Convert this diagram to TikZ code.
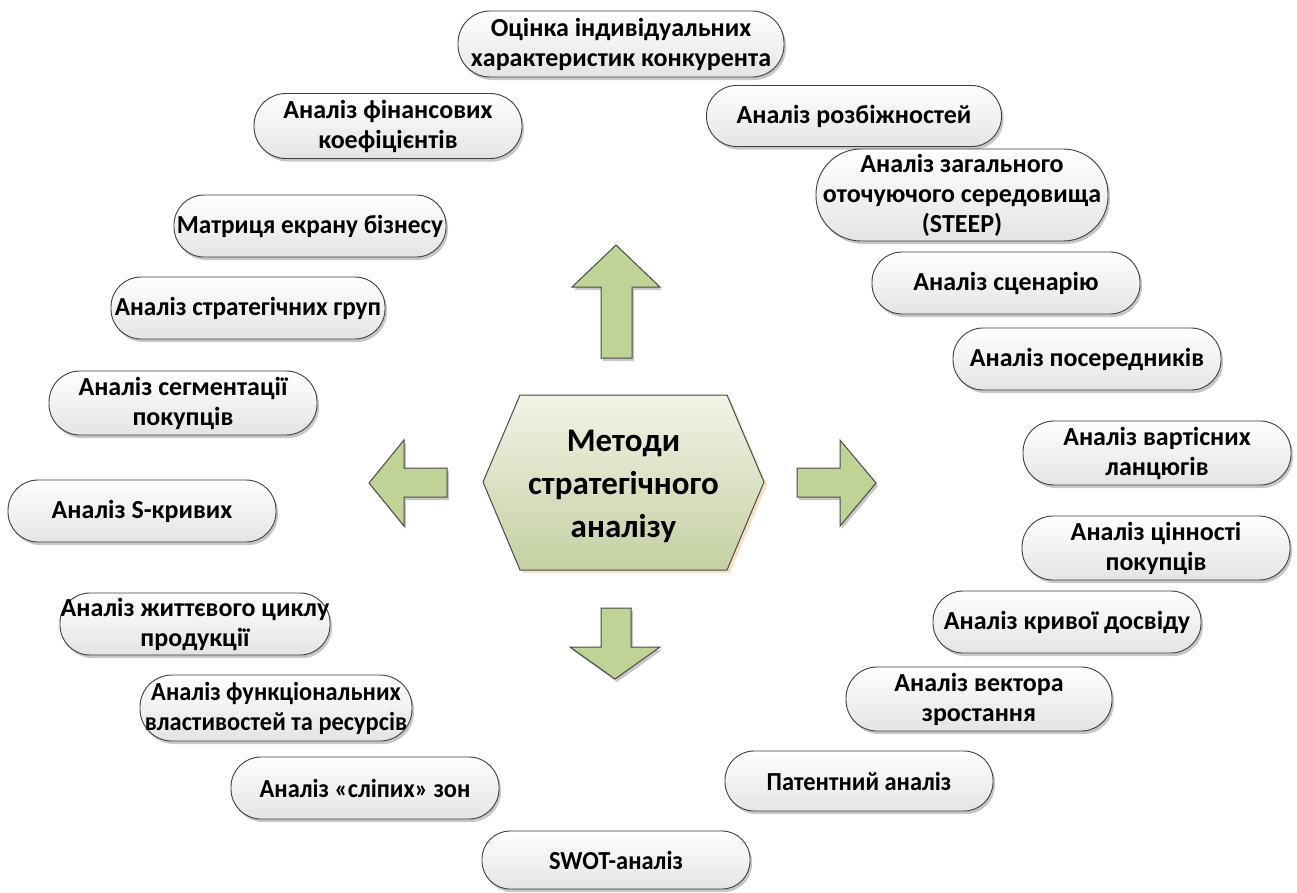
\documentclass[tikz,border=0pt]{standalone}
\usepackage{fontspec}
\setmainfont{Carlito}
\newfontfamily\narrowfont{Carlito}[FakeStretch=0.94]
\newfontfamily\tightfont{Carlito}[FakeStretch=0.97]
\usetikzlibrary{shadows}

\definecolor{boxline}{HTML}{3F3F3F}
\definecolor{boxlow}{HTML}{E4E4E4}
\definecolor{hextop}{HTML}{F2F3E6}
\definecolor{hexlow}{HTML}{C4D0A2}
\definecolor{arrowfill}{HTML}{C0D396}
\definecolor{arrowline}{HTML}{4A4A4A}

\tikzset{
  % pill-shaped box of fixed size; the negative inner xsep lets long lines
  % run up to the rim without widening the box
  pill/.style={rectangle, rounded corners=30pt, draw=boxline, line width=0.9pt,
    top color=white, bottom color=boxlow, align=center,
    minimum width=268pt, minimum height=62pt, inner xsep=-60pt, inner ysep=0pt,
    font=\fontsize{26}{30}\selectfont\bfseries,
    drop shadow={fill=black, opacity=0.22, shadow xshift=2pt, shadow yshift=-3pt}},
  narrowpill/.style={pill, font=\fontsize{26}{30}\narrowfont\bfseries},
  tightpill/.style={pill, font=\fontsize{26}{30}\tightfont\bfseries},
  blockarrow/.style={draw=arrowline, line width=1pt, fill=arrowfill,
    line join=miter,
    drop shadow={fill=black, opacity=0.22, shadow xshift=2pt, shadow yshift=-3pt}},
  hexbox/.style={draw=arrowline, line width=1pt, top color=hextop, bottom color=hexlow,
    drop shadow={fill=orange!60!brown, opacity=0.25, shadow xshift=3pt, shadow yshift=-3pt}},
  titletext/.style={align=center, font=\fontsize{33}{43}\selectfont\bfseries}
}

\begin{document}
\begin{tikzpicture}[x=1pt,y=-1pt]
\useasboundingbox (0,0) rectangle (1297,892);

% central hexagon
\path[hexbox] (483,482) -- (520,395) -- (727,395) -- (764,482) -- (727,570) -- (520,570) -- cycle;
\node[titletext] (core) at (623.5,486) {Методи\\стратегічного\\аналізу};

% block arrows pointing away from the centre
\path[blockarrow] (616,245) -- (660,287) -- (632,287) -- (632,358) -- (601,358) -- (601,287) -- (572,287) -- cycle;
\path[blockarrow] (876,483) -- (840,526) -- (840,497) -- (797,497) -- (797,468) -- (840,468) -- (840,440) -- cycle;
\path[blockarrow] (369,483) -- (404,526) -- (404,497) -- (447,497) -- (447,468) -- (404,468) -- (404,440) -- cycle;
\path[blockarrow] (615,679) -- (660,647) -- (631,647) -- (631,608) -- (601,608) -- (601,647) -- (570,647) -- cycle;

% methods
\node[pill, minimum width=326pt, minimum height=66pt, rounded corners=32pt] (m1) at (621,44) {Оцінка індивідуальних\\характеристик конкурента};
\node[pill, minimum height=65pt, rounded corners=32pt] (m2) at (388,126) {Аналіз фінансових\\коефіцієнтів};
\node[pill, minimum width=295pt, minimum height=61pt] (m3) at (854,116) {Аналіз розбіжностей};
\node[pill, minimum width=292pt, minimum height=92pt, rounded corners=45pt] (m4) at (962,195) {Аналіз загального\\оточуючого середовища\\(STEEP)};
\node[tightpill, minimum width=272pt] (m5) at (310,226) {Матриця екрану бізнесу};
\node[pill] (m6) at (1006,283) {Аналіз сценарію};
\node[tightpill, minimum width=274pt] (m7) at (248,308) {Аналіз стратегічних груп};
\node[pill] (m8) at (1087,359) {Аналіз посередників};
\node[pill, minimum height=64pt, rounded corners=31pt] (m9) at (183,403) {Аналіз сегментації\\покупців};
\node[pill, minimum height=64pt, rounded corners=31pt] (m10) at (1157,453) {Аналіз вартісних\\ланцюгів};
\node[pill] (m11) at (142,511) {Аналіз S-кривих};
\node[pill, minimum height=64pt, rounded corners=31pt] (m12) at (1156,548) {Аналіз цінності\\покупців};
\node[pill, minimum width=270pt] (m13) at (195,624) {Аналіз життєвого циклу\\продукції};
\node[pill] (m14) at (1067,622) {Аналіз кривої досвіду};
\node[narrowpill, minimum width=272pt, minimum height=66pt, rounded corners=32pt] (m15) at (276,708) {Аналіз функціональних\\властивостей та ресурсів};
\node[pill, minimum width=266pt, minimum height=64pt, rounded corners=31pt] (m16) at (979,699) {Аналіз вектора\\зростання};
\node[narrowpill] (m17) at (365,788) {Аналіз «сліпих» зон};
\node[narrowpill, minimum height=60pt, rounded corners=29pt] (m18) at (859,781) {Патентний аналіз};
\node[narrowpill, minimum height=58pt, rounded corners=28pt] (m19) at (616,860) {SWOT-аналіз};
\end{tikzpicture}
\end{document}
